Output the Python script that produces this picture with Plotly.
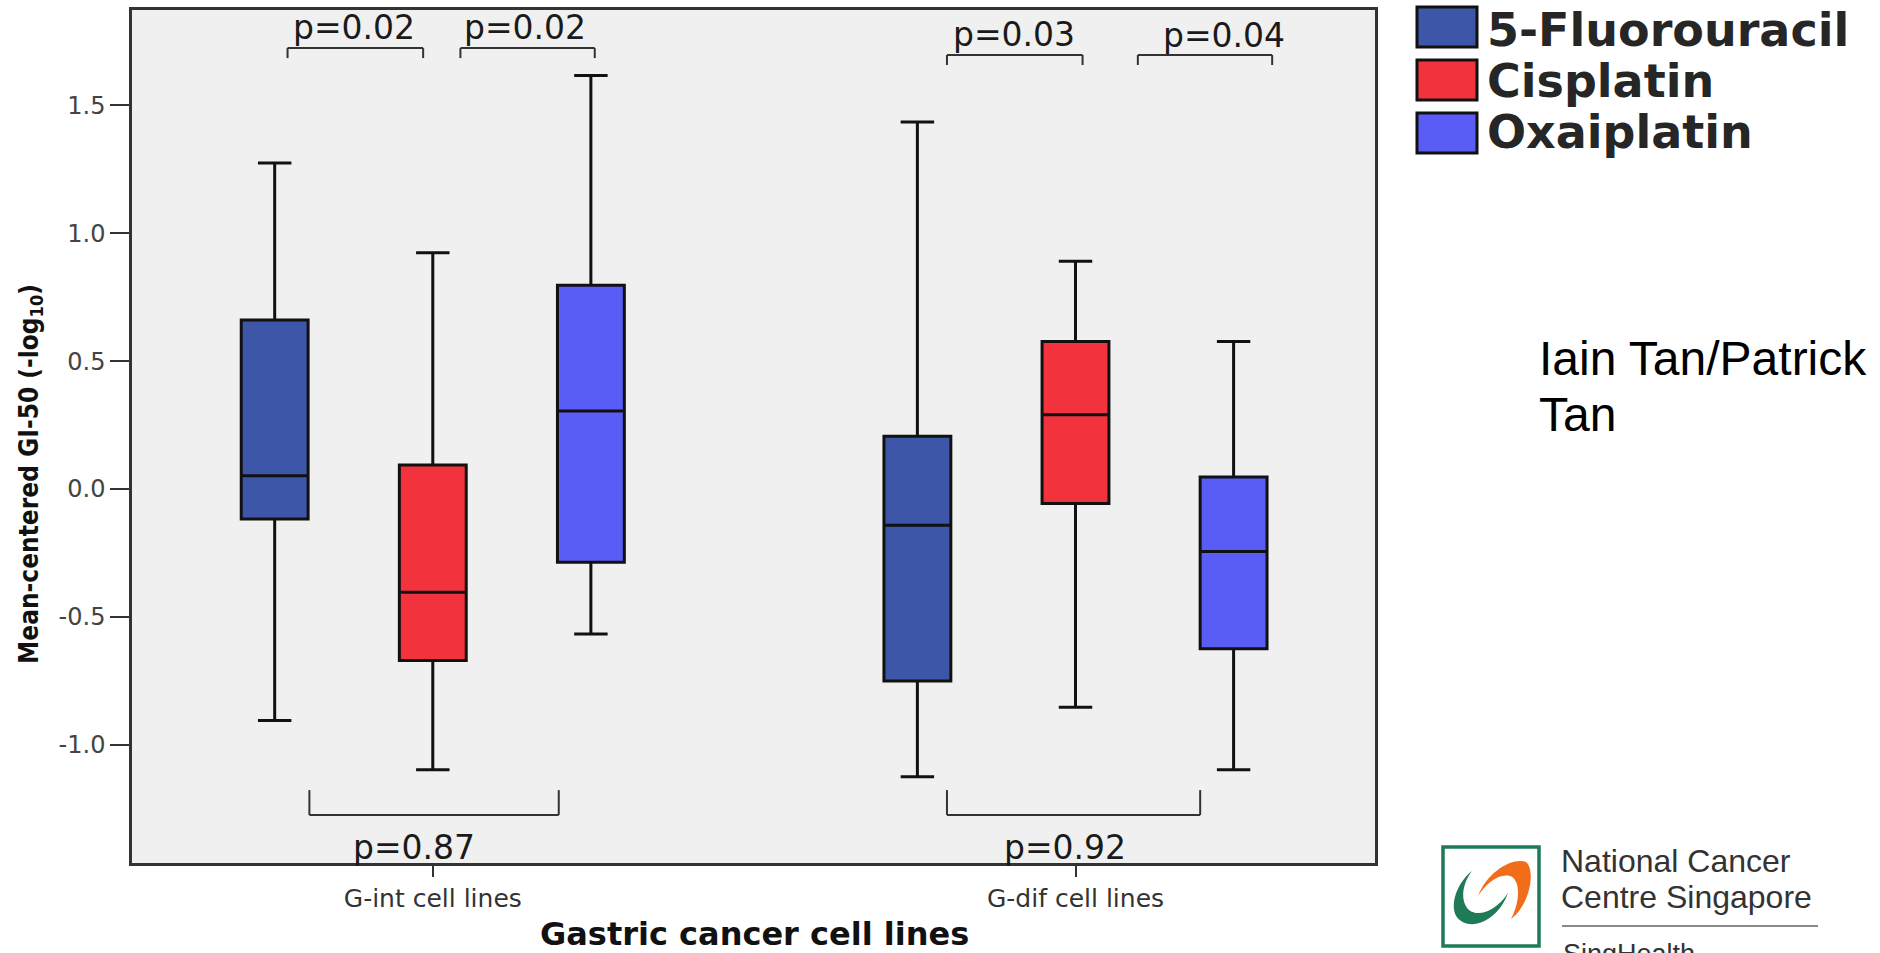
import plotly.graph_objects as go

# ---------------- data ----------------
categories = ["G-int cell lines", "G-dif cell lines"]
drugs = ["5-Fluorouracil", "Cisplatin", "Oxaiplatin"]

fu_upper = [1.275, 1.435]
fu_q3 = [0.661, 0.206]
fu_median = [0.052, -0.141]
fu_q1 = [-0.117, -0.750]
fu_lower = [-0.905, -1.125]

cis_upper = [0.924, 0.891]
cis_q3 = [0.094, 0.577]
cis_median = [-0.403, 0.291]
cis_q1 = [-0.670, -0.056]
cis_lower = [-1.097, -0.853]

oxa_upper = [1.617, 0.577]
oxa_q3 = [0.797, 0.047]
oxa_median = [0.305, -0.244]
oxa_q1 = [-0.286, -0.624]
oxa_lower = [-0.567, -1.097]

y_tickvals = [-1.0, -0.5, 0.0, 0.5, 1.0, 1.5]
y_ticktext = ["-1.0", "-0.5", "0.0", "0.5", "1.0", "1.5"]

# significance brackets (category-index units / data units)
bracket_x0 = [-0.226, 0.043, 0.800, 1.097, -0.192, 0.800]
bracket_x1 = [-0.015, 0.252, 1.011, 1.306, 0.196, 1.194]
bracket_y = [1.724, 1.724, 1.697, 1.697, -1.274, -1.274]
bracket_leg = [1.685, 1.685, 1.658, 1.658, -1.177, -1.177]
p_text = ["p=0.02", "p=0.02", "p=0.03", "p=0.04", "p=0.87", "p=0.92"]
p_x = [-0.122, 0.144, 0.904, 1.231, -0.029, 0.983]
p_y = [1.805, 1.805, 1.778, 1.775, -1.400, -1.400]

# ---------------- style ----------------
W, H = 1880, 953
ML, MR, MT, MB = 132, 505, 10, 90
PW, PH = W - ML - MR, H - MT - MB
colors = ["#3d56a8", "#f2323c", "#5a5cf6"]


def px(x):
    return (x - ML) / PW


def py(y):
    return (H - MB - y) / PH


fig = go.Figure()

stats = [
    (fu_q1, fu_median, fu_q3, fu_lower, fu_upper),
    (cis_q1, cis_median, cis_q3, cis_lower, cis_upper),
    (oxa_q1, oxa_median, oxa_q3, oxa_lower, oxa_upper),
]
for name, col, (q1, med, q3, lo, hi) in zip(drugs, colors, stats):
    fig.add_trace(go.Box(
        x=categories, q1=q1, median=med, q3=q3, lowerfence=lo, upperfence=hi,
        name=name, fillcolor=col, line=dict(color="#111111", width=3),
        whiskerwidth=0.5, boxpoints=False, showlegend=False, hoverinfo="skip",
    ))

shapes = []
annotations = []

# brackets and p-values
for x0, x1, yb, yl in zip(bracket_x0, bracket_x1, bracket_y, bracket_leg):
    for (a, b, c, d) in [(x0, yl, x0, yb), (x0, yb, x1, yb), (x1, yb, x1, yl)]:
        shapes.append(dict(type="line", xref="x", yref="y", x0=a, y0=b, x1=c, y1=d,
                           line=dict(color="#333333", width=2)))
for t, x, y in zip(p_text, p_x, p_y):
    annotations.append(dict(text=t, x=x, y=y, xref="x", yref="y", showarrow=False,
                            xanchor="center", yanchor="middle",
                            font=dict(family="DejaVu Sans", size=33, color="#1a1a1a")))

# legend (drawn manually to match large swatches)
leg_y0 = [7, 60, 113]
leg_y1 = [47, 100, 153]
leg_tc = [30, 81, 132]
for name, col, a, b, c in zip(drugs, colors, leg_y0, leg_y1, leg_tc):
    shapes.append(dict(type="rect", xref="paper", yref="paper",
                       x0=px(1417), x1=px(1477), y0=py(b), y1=py(a),
                       fillcolor=col, line=dict(color="#111111", width=3)))
    annotations.append(dict(text=name, x=px(1485), y=py(c), xref="paper", yref="paper",
                            showarrow=False, xanchor="left", yanchor="middle",
                            font=dict(family="DejaVu Sans", size=46, color="#262626",
                                      weight="bold")))

# axis titles
annotations.append(dict(text="Gastric cancer cell lines", x=px(754), y=py(934),
                        xref="paper", yref="paper", showarrow=False,
                        xanchor="center", yanchor="middle",
                        font=dict(family="DejaVu Sans", size=32, color="#111111",
                                  weight="bold")))
annotations.append(dict(text="Mean-centered GI-50 (-log<sub>10</sub>)", x=px(30), y=py(474),
                        xref="paper", yref="paper", showarrow=False, textangle=-90,
                        xanchor="center", yanchor="middle",
                        font=dict(family="Liberation Sans Narrow, DejaVu Sans Condensed, DejaVu Sans",
                                  size=26, color="#111111", weight="bold")))

# author note
annotations.append(dict(text="Iain Tan/Patrick", x=px(1537), y=py(358),
                        xref="paper", yref="paper", showarrow=False,
                        xanchor="left", yanchor="middle",
                        font=dict(family="Liberation Sans, Arial", size=48, color="#000000")))
annotations.append(dict(text="Tan", x=px(1537), y=py(414),
                        xref="paper", yref="paper", showarrow=False,
                        xanchor="left", yanchor="middle",
                        font=dict(family="Liberation Sans, Arial", size=48, color="#000000")))

# logo
GREEN = "#1e7b55"
ORANGE = "#f26d1a"
shapes.append(dict(type="rect", xref="paper", yref="paper",
                   x0=px(1443), x1=px(1539), y0=py(946), y1=py(847),
                   line=dict(color=GREEN, width=3.5), fillcolor="rgba(0,0,0,0)"))


def path(cmds):
    out = []
    for c in cmds:
        op, pts = c[0], c[1:]
        coords = " ".join(f"{px(x):.5f},{py(y):.5f}" for x, y in pts)
        out.append(f"{op}{coords}")
    return " ".join(out) + " Z"


orange = path([
    ("M", (1478, 896)),
    ("C", (1488, 870), (1514, 857), (1526, 862)),
    ("C", (1536, 870), (1530, 905), (1511, 919)),
    ("C", (1521, 900), (1520, 879), (1510, 876)),
    ("C", (1498, 873), (1486, 884), (1478, 896)),
])
green = path([
    ("M", (1472, 871)),
    ("C", (1455, 884), (1447, 912), (1461, 921)),
    ("C", (1477, 931), (1500, 916), (1508, 893)),
    ("C", (1497, 910), (1479, 918), (1469, 910)),
    ("C", (1460, 901), (1462, 884), (1472, 871)),
])
shapes.append(dict(type="path", xref="paper", yref="paper", path=orange,
                   fillcolor=ORANGE, line=dict(width=0)))
shapes.append(dict(type="path", xref="paper", yref="paper", path=green,
                   fillcolor=GREEN, line=dict(width=0)))
annotations.append(dict(text="National Cancer", x=px(1559), y=py(861),
                        xref="paper", yref="paper", showarrow=False,
                        xanchor="left", yanchor="middle",
                        font=dict(family="Liberation Sans, Arial", size=32, color="#333333")))
annotations.append(dict(text="Centre Singapore", x=px(1559), y=py(897),
                        xref="paper", yref="paper", showarrow=False,
                        xanchor="left", yanchor="middle",
                        font=dict(family="Liberation Sans, Arial", size=32, color="#333333")))
shapes.append(dict(type="line", xref="paper", yref="paper",
                   x0=px(1562), x1=px(1818), y0=py(926), y1=py(926),
                   line=dict(color="#8a8a8a", width=2)))
annotations.append(dict(text="SingHealth", x=px(1561), y=py(937),
                        xref="paper", yref="paper", showarrow=False,
                        xanchor="left", yanchor="top",
                        font=dict(family="Liberation Sans, Arial", size=27, color="#333333")))

fig.update_layout(
    width=W, height=H,
    margin=dict(l=ML, r=MR, t=MT, b=MB, pad=0),
    paper_bgcolor="white", plot_bgcolor="#f0f0f0",
    boxmode="group", boxgap=0.262, boxgroupgap=0.577,
    showlegend=False,
    shapes=shapes, annotations=annotations,
    xaxis=dict(type="category", categoryorder="array", categoryarray=categories,
               range=[-0.468, 1.466], showgrid=False, zeroline=False,
               showline=True, mirror=True, linecolor="#333333", linewidth=2.5,
               ticks="outside", ticklen=11, tickwidth=2, tickcolor="#333333",
               tickfont=dict(family="DejaVu Sans", size=25, color="#333333"),
               automargin=False, fixedrange=True),
    yaxis=dict(range=[-1.462, 1.873], tickvals=y_tickvals, ticktext=y_ticktext,
               showgrid=False, zeroline=False,
               showline=True, mirror=True, linecolor="#333333", linewidth=2.5,
               ticks="outside", ticklen=19, tickwidth=2, tickcolor="#333333",
               tickfont=dict(family="DejaVu Sans", size=24, color="#444444"),
               automargin=False, fixedrange=True),
)

fig.write_html("out.html")
